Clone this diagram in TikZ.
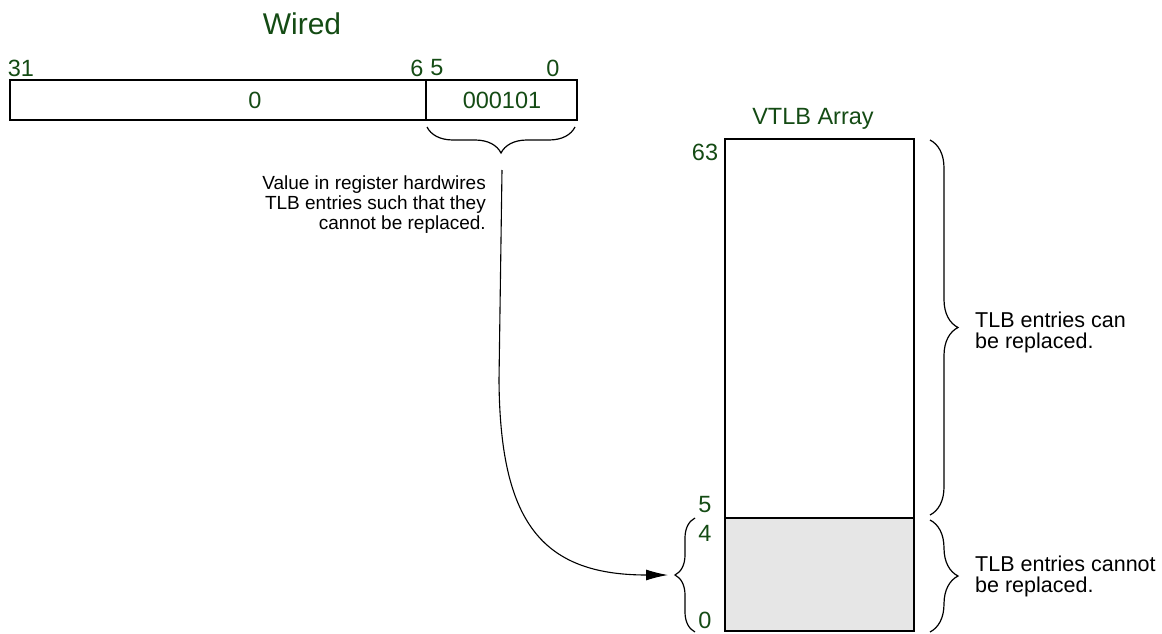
\documentclass[tikz,border=0pt]{standalone}
\usepackage{fontspec}
\setmainfont{Liberation Sans}
\usetikzlibrary{decorations.pathreplacing,arrows.meta}
\definecolor{lbl}{RGB}{20,75,20}
\definecolor{fillg}{RGB}{230,230,230}
\begin{document}
\begin{tikzpicture}[x=1pt,y=-1pt,
  box/.style={draw, line width=1.8pt, inner sep=0pt, outer sep=0pt, anchor=north west},
  num/.style={text=lbl, font=\fontsize{23.5}{25}\selectfont, inner sep=0pt},
  note/.style={font=\fontsize{19}{20}\selectfont, inner sep=0pt},
  rnote/.style={font=\fontsize{21.5}{21}\selectfont, inner sep=0pt},
  brc/.style={decorate, decoration={brace, amplitude=#1}, line width=1.2pt},
]
\useasboundingbox (0,0) rectangle (1162,634);
% register
\node[box, minimum width=416pt, minimum height=40pt] (hi) at (10,80) {};
\node[box, minimum width=151pt, minimum height=40pt] (lo) at (426,80) {};
\node[num, font=\fontsize{30}{32}\selectfont] (title) at (302,24) {Wired};
\node[num] (b31) at (21,68) {31};
\node[num] (b6) at (417,68) {6};
\node[num] (b5) at (437,68) {5};
\node[num] (b0) at (553,68) {0};
\node[num] (vhi) at (255,100) {0};
\node[num] (vlo) at (502,100) {000101};
% brace under low field
\draw[brc=26pt] (575,127) -- (427,127);
\coordinate (src) at (502,170);
\node[note, anchor=north east, align=right] (why) at (486,176)
  {Value in register hardwires\\TLB entries such that they\\cannot be replaced.};
% array
\node[box, minimum width=189pt, minimum height=379pt] (upper) at (725,139) {};
\node[box, fill=fillg, minimum width=189pt, minimum height=113pt] (lower) at (725,518) {};
\node[num] (vt) at (813,119) {VTLB Array};
\node[num] (i63) at (705,152) {63};
\node[num] (i5) at (705,505) {5};
\node[num] (i4) at (705,533) {4};
\node[num] (i0) at (705,620) {0};
% braces
\draw[brc=20pt] (695,632) -- (695,518);
\coordinate (dst) at (668,575);
\draw[brc=28pt] (930,140) -- (930,515);
\draw[brc=28pt] (930,520) -- (930,632);
\node[rnote, anchor=west, align=left] (can) at (975,332) {TLB entries can\\be replaced.};
\node[rnote, anchor=west, align=left] (cannot) at (975,576) {TLB entries cannot\\be replaced.};
% connector
\draw[line width=1.1pt, -{Latex[length=22pt,width=11pt]}] (src) -- (499,380) .. controls (500,520) and (540,575) .. (dst);
\end{tikzpicture}
\end{document}
